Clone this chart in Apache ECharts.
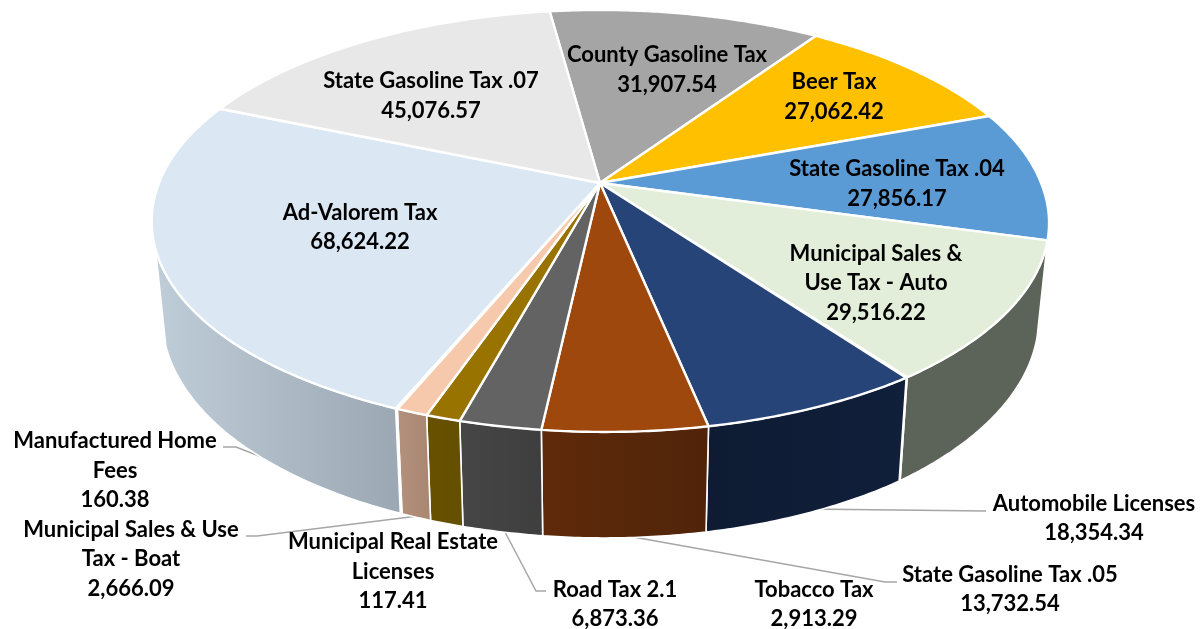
<!DOCTYPE html>
<html><head><meta charset="utf-8">
<style>html,body{margin:0;padding:0;background:#fff}#c{width:1201px;height:629px}</style>
<script src="https://cdn.jsdelivr.net/npm/echarts@6/dist/echarts.min.js"></script>
</head><body><div id="c"></div>
<script>
// Data, clockwise from the County Gasoline Tax slice
const sliceNames = ['County Gasoline Tax','Beer Tax','State Gasoline Tax .04','Municipal Sales &\nUse Tax - Auto','Municipal Real Estate\nLicenses','Automobile Licenses','State Gasoline Tax .05','Road Tax 2.1','Tobacco Tax','Municipal Sales & Use\nTax - Boat','Manufactured Home\nFees','Ad-Valorem Tax','State Gasoline Tax .07'];
const sliceValues = [31907.54,27062.42,27856.17,29516.22,117.41,18354.34,13732.54,6873.36,2913.29,2666.09,160.38,68624.22,45076.57];
const valueLabels = ['31,907.54','27,062.42','27,856.17','29,516.22','117.41','18,354.34','13,732.54','6,873.36','2,913.29','2,666.09','160.38','68,624.22','45,076.57'];

// Styles
const topColors = ['#a5a5a5','#ffc000','#5b9bd5','#e2eed9','#ffffff','#264478','#9e480e','#636363','#997300','#f6c8ac','#ffffff','#dbe7f3','#e8e8e8'];
const wallLeft  = ['#6a6a6a','#a37b00','#3a6488','#5c6358','#8a8a8a','#0e1b33','#5f2a0a','#464646','#695000','#b3917c','#ffffff','#bfcdd9','#9a9a9a'];
const wallRight = ['#6a6a6a','#a37b00','#3a6488','#5c6358','#8a8a8a','#101f3a','#50240a','#3e3e3e','#635000','#a98672','#ffffff','#9ba8b4','#9a9a9a'];

// Layout: projection of the tilted disc
const apex = [600,183], A = 441, B = 203.5, K = 0.176, startDeg = -7.7;
const wallFrom = 105, wallTo = 252, wallScale = 0.977;
const warp = [[-7.7,0],[70,0],[105,-0.5],[145,-0.8],[168,-0.5],[187,-0.6],[207,-0.7],[300,-0.3],[352.3,0]];
const radial = [[-8,1],[90,1],[145,1.012],[190,1.005],[230,1.005],[265,1],[352.3,1]];
const labelAt = [[667,69.5],[834,96.5],[897,183.5],[876,282.5],[393,571],[1094,518],[1010,589],[615,604],[814,604],[131,558.5],[115,470],[360,227],[431,95.5]];
const leaders = {5:[[986,511],[806,509]],6:[[897,582],[885,582],[622,535]],7:[[546,591],[536,591],[505,532]],9:[[246,536],[257,536],[418,516]],10:[[223,447],[236,447],[398,510]]};

const total = sliceValues.reduce((a,b)=>a+b,0);
const cum = [0]; sliceValues.forEach((v,i)=>cum.push(cum[i]+v));
function lookup(t,d){
  for(let i=1;i<t.length;i++) if(d<=t[i][0]){ const p=t[i-1],q=t[i];
    return p[1]+(q[1]-p[1])*(d-p[0])/(q[0]-p[0]); }
  return t[t.length-1][1]; }
function deg(v){ const d=startDeg+v/total*360; return d+lookup(warp,d); }

function rimTop(d){ const r=d*Math.PI/180, s=lookup(radial,d), X=Math.sin(r)*s, Y=-Math.cos(r)*s, w=1-K*Y;
  return [apex[0]+A*X/w, apex[1]+B*Y/w]; }
function rimBottom(d){ const r=d*Math.PI/180, Y=-Math.cos(r), p=rimTop(d);
  return [apex[0]+(p[0]-apex[0])*wallScale, p[1]+92+14*Y]; }
function arc(f,a,b){ const out=[], n=Math.max(1,Math.ceil(Math.abs(b-a)/0.5));
  for(let i=0;i<=n;i++) out.push(f(a+(b-a)*i/n)); return out; }

function renderWall(params){
  const i=params.dataIndex, a=Math.max(deg(cum[i]),wallFrom), b=Math.min(deg(cum[i+1]),wallTo);
  if(b<=a) return {type:'group',children:[]};
  const pts=arc(rimTop,a,b).concat(arc(rimBottom,a,b).reverse());
  return {type:'polygon',shape:{points:pts},style:{
    fill:new echarts.graphic.LinearGradient(0,0,1,0,[{offset:0,color:wallLeft[i]},{offset:1,color:wallRight[i]}]),
    stroke:'#fff',lineWidth:1.6,lineJoin:'round'}};
}
function renderTop(params){
  const i=params.dataIndex, pts=[apex].concat(arc(rimTop,deg(cum[i]),deg(cum[i+1])));
  return {type:'polygon',shape:{points:pts},style:{fill:topColors[i],stroke:'#fff',lineWidth:2.4,lineJoin:'round'}};
}
function renderLeader(params){
  const l=leaders[params.dataIndex];
  if(!l) return {type:'group',children:[]};
  return {type:'polyline',shape:{points:l},style:{fill:'none',stroke:'#a6a6a6',lineWidth:1.5}};
}
function renderLabel(params){
  const i=params.dataIndex;
  return {type:'text',x:labelAt[i][0],y:labelAt[i][1]+0.5,style:{
    text:sliceNames[i]+'\n'+valueLabels[i],fill:'#000',font:'bold 22px Lato',
    lineHeight:29.5,align:'center',verticalAlign:'middle'}};
}
const base={type:'custom',coordinateSystem:'none',data:sliceValues,animation:false,silent:true,clip:false};
const chart=echarts.init(document.getElementById('c'),null,{renderer:'canvas'});
chart.setOption({
  animation:false,backgroundColor:'#fff',
  series:[
    Object.assign({},base,{z:1,renderItem:renderLeader}),
    Object.assign({},base,{z:2,renderItem:renderWall}),
    Object.assign({},base,{z:3,renderItem:renderTop}),
    Object.assign({},base,{z:4,renderItem:renderLabel})
  ]
});
</script></body></html>
